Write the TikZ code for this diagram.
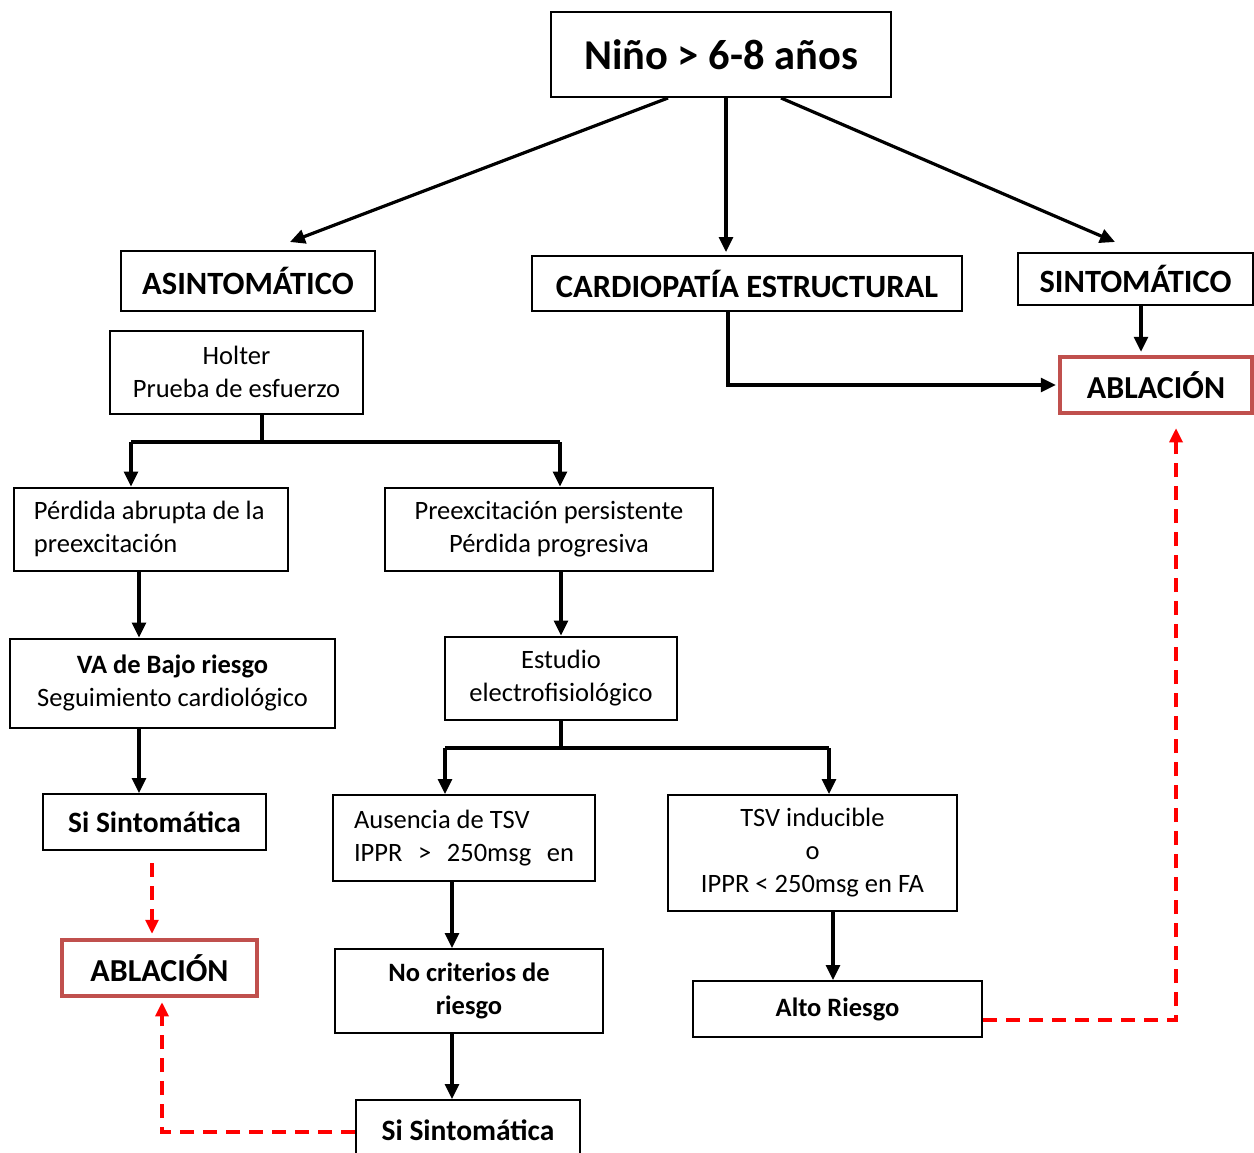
\documentclass[tikz,border=0pt]{standalone}
\usepackage{fontspec}
\setmainfont{Carlito}
\usetikzlibrary{arrows.meta}
\definecolor{ablred}{HTML}{C0504D}
\tikzset{
  box/.style={draw, line width=2pt, inner sep=0pt, align=center, font=\fontsize{26.5}{33}\selectfont},
  head/.style={box, font=\bfseries\fontsize{32.5}{38}\selectfont},
  abl/.style={draw=ablred, line width=4.5pt, inner sep=0pt, align=center, font=\bfseries\fontsize{32}{38}\selectfont},
  ln/.style={line width=3.2pt},
  arr/.style={line width=3.2pt, -{Triangle[length=15pt,width=14pt]}},
  rarr/.style={line width=3.2pt, red, dash pattern=on 14pt off 9pt, -{Triangle[length=14pt,width=13pt]}}
}
\begin{document}
\begin{tikzpicture}[x=1pt,y=-1pt]
\useasboundingbox (0,0) rectangle (1254,1153);
% nodes
\node[box, font=\bfseries\fontsize{42.5}{46}\selectfont, minimum width=340pt, minimum height=85pt] (top) at (721,54.5) {Niño > 6-8 años};
\node[head, minimum width=254pt, minimum height=60pt] (asin) at (248,281) {ASINTOMÁTICO};
\node[head, minimum width=430pt, minimum height=55pt] (cardio) at (747,283.5) {CARDIOPATÍA ESTRUCTURAL};
\node[head, minimum width=235pt, minimum height=52pt] (sint) at (1135.5,279) {SINTOMÁTICO};
\node[abl, minimum width=192pt, minimum height=56pt] (ablR) at (1156,385) {ABLACIÓN};
\node[box, minimum width=253pt, minimum height=83pt] (holter) at (236.5,372) {Holter\\Prueba de esfuerzo};
\node[box, minimum width=274pt, minimum height=83pt] (perda) at (151,529) {\makebox[234pt][l]{Pérdida abrupta de la}\\\makebox[234pt][l]{preexcitación}};
\node[box, minimum width=328pt, minimum height=83pt] (preex) at (549,529) {Preexcitación persistente\\Pérdida progresiva};
\node[box, minimum width=325pt, minimum height=89pt] (va) at (172.5,683) {\textbf{VA de Bajo riesgo}\\Seguimiento cardiológico};
\node[box, minimum width=232pt, minimum height=83pt] (estudio) at (561,678) {Estudio\\electrofisiológico};
\node[box, font=\bfseries\fontsize{29.5}{34}\selectfont, minimum width=223pt, minimum height=56pt] (si1) at (154.5,822) {Si Sintomática};
\node[box, minimum width=262pt, minimum height=86pt] (aus) at (464,838) {\makebox[220pt][l]{Ausencia de TSV}\\\makebox[220pt][s]{IPPR > 250msg en}};
\node[box, minimum width=289pt, minimum height=116pt] (tsv) at (812.5,853) {TSV inducible\\o\\IPPR < 250msg en FA};
\node[abl, minimum width=195pt, minimum height=56pt] (ablL) at (159.5,968) {ABLACIÓN};
\node[box, font=\bfseries\fontsize{26.5}{33}\selectfont, minimum width=268pt, minimum height=84pt] (nocrit) at (469,991) {No criterios de\\riesgo};
\node[box, font=\bfseries\fontsize{26.5}{33}\selectfont, minimum width=289pt, minimum height=56pt] (alto) at (837.5,1009) {Alto Riesgo};
\node[box, font=\bfseries\fontsize{29.5}{34}\selectfont, minimum width=224pt, minimum height=60pt] (si2) at (468,1130) {Si Sintomática};
% junction coordinates
\coordinate (h1) at (131,442);
\coordinate (h2) at (560,442);
\coordinate (e1) at (445,748);
\coordinate (e2) at (829,748);
% connectors
\draw[arr] ([xshift=-53pt]top.south) -- ([xshift=42pt,yshift=8pt]asin.north);
\draw[arr] ([xshift=5pt]top.south) -- ([xshift=-21pt,yshift=3pt]cardio.north);
\draw[arr] ([xshift=60pt]top.south) -- ([xshift=-20.5pt,yshift=10pt]sint.north);
\draw[arr] ([xshift=5.5pt]sint.south) -- ([xshift=-15pt,yshift=3pt]ablR.north);
\draw[arr] ([xshift=-19pt]cardio.south) |- ([xshift=-2pt]ablR.west);
\draw[ln] ([xshift=25.5pt]holter.south) -- ([xshift=25.5pt]holter.south |- h1);
\draw[ln] (h1) -- (h2);
\draw[arr] (h1) -- (h1 |- perda.north);
\draw[arr] (h2) -- (h2 |- preex.north);
\draw[arr] ([xshift=-12pt]perda.south) -- ([xshift=-12pt]perda.south |- va.north);
\draw[arr] ([xshift=12pt]preex.south) -- ([xshift=12pt]preex.south |- estudio.north);
\draw[arr] ([xshift=-33.5pt]va.south) -- ([xshift=-33.5pt]va.south |- si1.north);
\draw[ln] (estudio.south) -- (estudio.south |- e1);
\draw[ln] (e1) -- (e2);
\draw[arr] (e1) -- (e1 |- aus.north);
\draw[arr] (e2) -- (e2 |- tsv.north);
\draw[arr] ([xshift=-12pt]aus.south) -- ([xshift=-12pt]aus.south |- nocrit.north);
\draw[arr] ([xshift=20.5pt]tsv.south) -- ([xshift=20.5pt]tsv.south |- alto.north);
\draw[arr] ([xshift=-17pt]nocrit.south) -- ([xshift=-17pt]nocrit.south |- si2.north);
% red dashed
\draw[rarr] ([xshift=-2.5pt,yshift=-12pt]si1.south) -- ([xshift=-7.5pt,yshift=4pt]ablL.north);
\draw[rarr] ([yshift=-2pt]si2.west) -| ([xshift=2.5pt,yshift=-4pt]ablL.south);
\draw[rarr] ([yshift=-11pt]alto.east) -| ([xshift=20pt,yshift=-13pt]ablR.south);
\end{tikzpicture}
\end{document}
